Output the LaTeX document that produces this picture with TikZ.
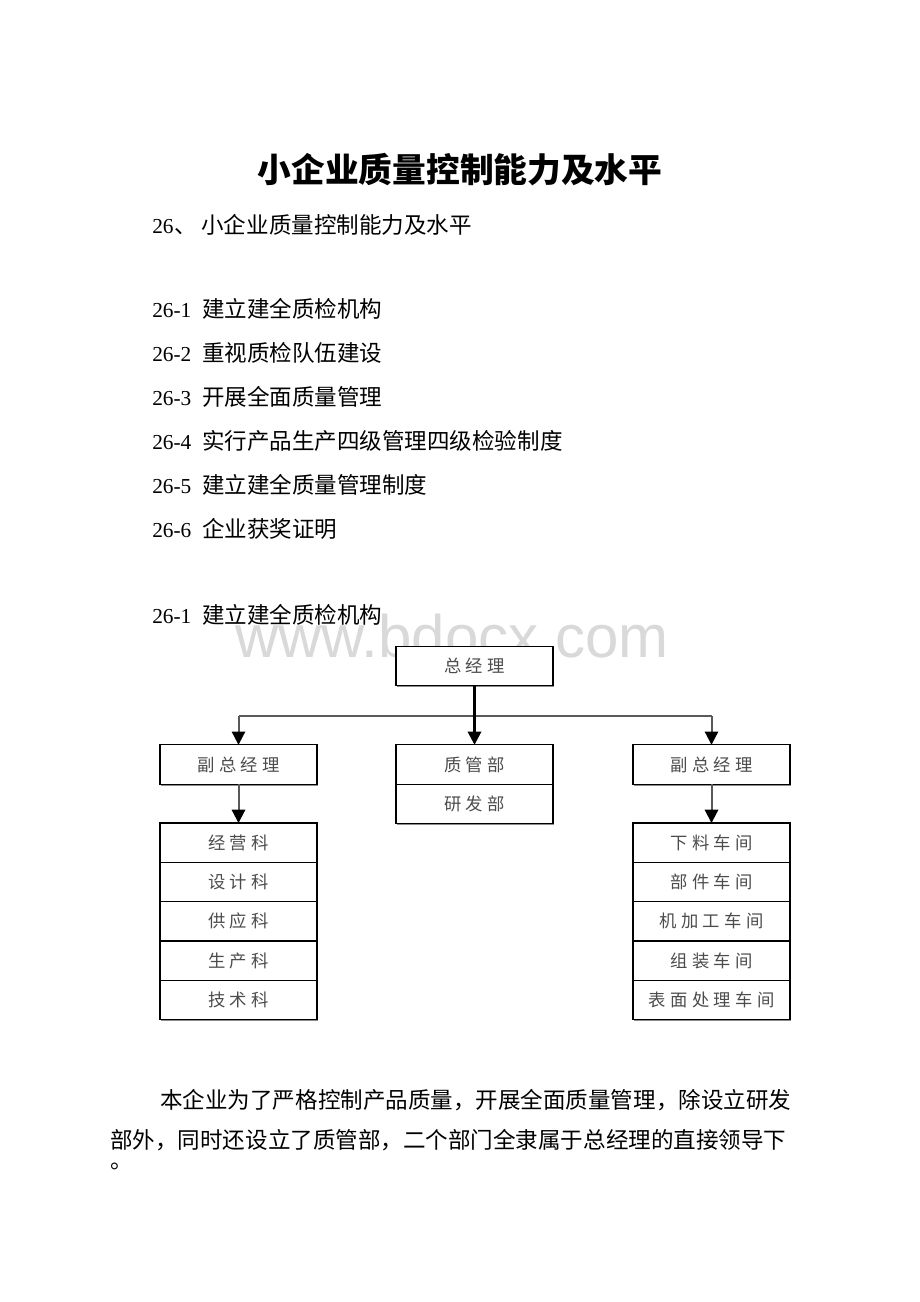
\documentclass[tikz,border=0pt]{standalone}
\usepackage{fontspec}
\setmainfont{Liberation Serif}
\newfontfamily\cjk{Noto Sans CJK SC}
\newfontfamily\cjkbox[LetterSpace=25]{Noto Sans CJK SC}
\newfontfamily\markfont{Liberation Sans}
\newcommand\num[1]{{\fontsize{16}{18}\selectfont #1}}
\usetikzlibrary{positioning,arrows.meta,shadows}

\begin{document}
\begin{tikzpicture}[x=0.75pt,y=-0.75pt,
box/.style={draw=black,line width=0.9pt,fill=white,minimum width=117.75pt,minimum height=29.5pt,
    inner sep=0pt,outer sep=0pt,text=black!70,font=\cjkbox\fontsize{13}{13}\selectfont,
    drop shadow={shadow xshift=1pt,shadow yshift=-1pt,fill=black!45,opacity=1}},
body/.style={anchor=west,inner sep=0pt,font=\fontsize{16.9}{20}\selectfont},
link/.style={line width=1.5pt,black!65},
arr/.style={link,-{Triangle[width=10pt,length=10pt,black]}}]
\fill[white] (0,0) rectangle (920,1302);
\useasboundingbox (0,0) rectangle (920,1302);

% text above the chart
\node (title) [font=\cjk\bfseries\fontsize{25.3}{30}\selectfont] at (460,170) {小企业质量控制能力及水平};
\node (sec) [body] at (152,225) {\num{26}\hspace{1pt}{\cjk 、\hspace{3pt}小企业质量控制能力及水平}};
\foreach \t [count=\i] in {建立建全质检机构,重视质检队伍建设,开展全面质量管理,
    实行产品生产四级管理四级检验制度,建立建全质量管理制度,企业获奖证明}
  \node (item\i) [body] at (152,{265+44*\i}) {\num{26-\i}\hspace{8pt}{\cjk \t}};
\node (subsec) [body] at (152,615) {\num{26-1}\hspace{8pt}{\cjk 建立建全质检机构}};
\node (mark) [anchor=base west,inner sep=0pt,text=black!15,
    font=\markfont\fontsize{45}{45}\selectfont] at (235,657) {www.bdocx.com};

% chart
\node (ceo) [box] at (474.5,666) {总经理};
\node (vpl) [box] at (238.5,764.5) {副总经理};
\node (qm) [box] at (474.5,764.5) {质管部};
\node (rd) [box,below=0pt of qm] {研发部};
\node (vpr) [box] at (711.5,764.5) {副总经理};

\node (l1) [box] at (238.5,842.7) {经营科};
\node (l2) [box,below=0pt of l1] {设计科};
\node (l3) [box,below=0pt of l2] {供应科};
\node (l4) [box,below=0pt of l3] {生产科};
\node (l5) [box,below=0pt of l4] {技术科};

\node (r1) [box] at (711.5,842.7) {下料车间};
\node (r2) [box,below=0pt of r1] {部件车间};
\node (r3) [box,below=0pt of r2] {机加工车间};
\node (r4) [box,below=0pt of r3] {组装车间};
\node (r5) [box,below=0pt of r4] {表面处理车间};

\coordinate (bar) at (474.5,716);
\draw[link] (bar -| vpl) -- (bar -| vpr);
\draw[arr] (bar -| vpl) -- (vpl);
\draw[arr] (bar -| vpr) -- (vpr);
\draw[arr,black,line width=2pt] (ceo) -- (qm);
\draw[arr] (vpl) -- (l1);
\draw[arr] (vpr) -- (r1);

% text below the chart
\node (para1) [body] at (160,1100) {\cjk 本企业为了严格控制产品质量，开展全面质量管理，除设立研发};
\node (para2) [body] at (110,1140) {\cjk 部外，同时还设立了质管部，二个部门全隶属于总经理的直接领导下};
\node (para3) [body,anchor=base west] at (110,1168) {\cjk 。};
\end{tikzpicture}
\end{document}
